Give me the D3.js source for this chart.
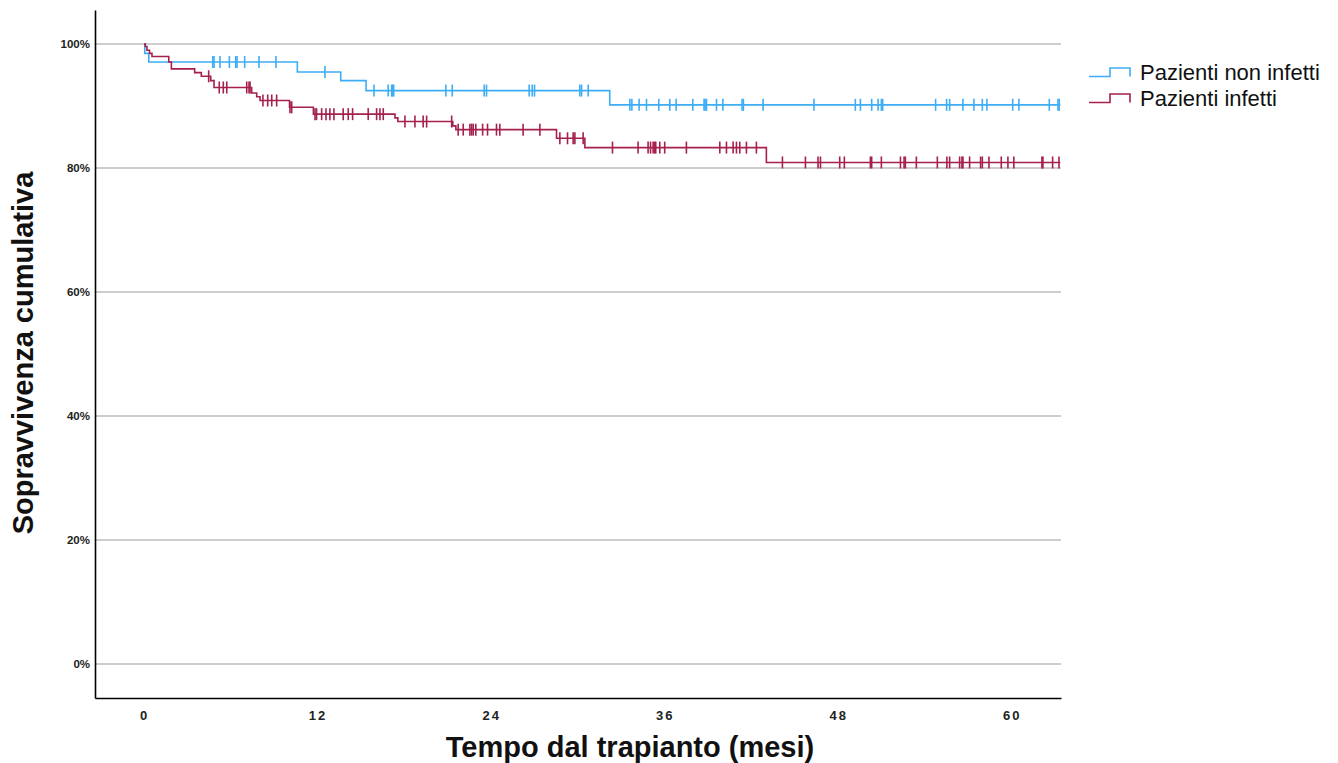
<!DOCTYPE html>
<html>
<head>
<meta charset="utf-8">
<script src="https://cdn.jsdelivr.net/npm/d3@7"></script>
<style>
body{margin:0;background:#fff;}
text{font-family:"Liberation Sans",Arial,sans-serif;}
</style>
</head>
<body>
<div id="chart"></div>
<script>
// Kaplan-Meier steps: times (months) and survival after each drop
const seriesNames=['Pazienti non infetti','Pazienti infetti'];
const blueTimes=[0,0.05,0.33,10.6,13.6,15.35,32.2];
const blueSurv=[1,0.985,0.971,0.955,0.941,0.925,0.902];
const blueCensored=[4.75,4.84,5.25,5.9,6.34,6.43,6.96,7.95,9.12,12.51,15.9,16.88,17.12,17.19,17.26,
  20.87,21.31,23.52,23.68,26.63,26.84,27.0,30.13,30.25,30.71,33.59,33.73,34.23,34.74,35.59,36.35,36.79,
  37.94,38.72,38.79,38.89,39.58,40.02,41.35,41.44,42.8,46.32,49.18,49.53,50.31,50.75,50.98,51.07,54.73,
  55.49,55.7,56.62,57.38,57.96,58.28,60.06,60.49,62.59,63.19,63.28];
const redTimes=[0,0.09,0.2,0.38,0.55,1.71,1.89,3.5,3.96,4.61,4.84,7.44,7.79,8.02,10.06,11.71,17.35,17.55,21.35,21.56,28.52,30.48,43.03];
const redSurv=[1,0.996,0.99,0.985,0.98,0.971,0.96,0.954,0.948,0.941,0.93,0.921,0.915,0.909,0.898,0.887,0.881,0.875,0.868,0.862,0.848,0.833,0.809];
const redCensored=[4.47,5.2,5.48,5.72,7.1,7.26,7.33,8.22,8.55,8.83,9.17,10.09,10.21,11.82,11.93,12.28,12.58,
  12.85,13.13,13.77,14.12,14.42,15.5,16.08,16.31,16.54,18.04,18.73,19.3,19.54,21.27,21.72,22.07,22.53,22.65,
  22.76,22.94,23.41,23.75,24.37,24.6,26.21,27.37,28.75,29.28,29.67,29.79,30.36,32.39,34.16,34.85,35.02,35.2,
  35.31,35.38,35.66,36.0,37.5,39.81,40.27,40.73,40.96,41.19,41.65,42.34,44.14,45.73,46.6,46.77,48.1,48.42,
  50.22,50.31,50.98,52.3,52.55,52.64,53.4,54.85,55.51,55.7,56.39,56.55,56.62,57.08,57.84,57.96,58.42,59.27,
  59.73,60.14,62.08,62.15,62.82,63.26];
const xTicks=[0,12,24,36,48,60];
const yTicks=[0,0.2,0.4,0.6,0.8,1];

const width=1338, height=763;
const colors=['#3DAEF5','#A5204F'];

const svg=d3.select('#chart').append('svg')
  .attr('width',width).attr('height',height);

const x=d3.scaleLinear().domain([-3.39,63.4]).range([95,1061]);
const y=d3.scaleLinear().domain([-0.055,1.055]).range([698,10]);

// gridlines
svg.append('g').selectAll('line').data(yTicks).join('line')
  .attr('x1',95).attr('x2',1061)
  .attr('y1',d=>y(d)).attr('y2',d=>y(d))
  .attr('stroke','#bdbdbd').attr('stroke-width',1.5);

// axes
const yAxis=svg.append('g').attr('transform','translate(95,0)')
  .call(d3.axisLeft(y).tickValues(yTicks).tickFormat(d3.format('.0%')).tickSize(0).tickPadding(5));
yAxis.select('.domain').attr('stroke','#000').attr('stroke-width',1.6);
yAxis.selectAll('text').attr('font-size',11.5).attr('font-weight','bold').attr('fill','#222');

const xAxis=svg.append('g').attr('transform','translate(0,698)')
  .call(d3.axisBottom(x).tickValues(xTicks).tickSize(0).tickPadding(13));
xAxis.select('.domain').attr('stroke','#000').attr('stroke-width',1.6);
xAxis.selectAll('text').attr('font-size',13).attr('font-weight','bold').attr('fill','#222')
  .attr('letter-spacing','2px');

// step curves
const series=[
  {times:blueTimes,surv:blueSurv,cens:blueCensored,color:colors[0]},
  {times:redTimes,surv:redSurv,cens:redCensored,color:colors[1]}
];
const line=d3.line().x(d=>x(d[0])).y(d=>y(d[1])).curve(d3.curveStepAfter);
const survAt=(s,t)=>s.surv[d3.bisectRight(s.times,t)-1];

series.forEach(s=>{
  const pts=s.times.map((t,i)=>[t,s.surv[i]]);
  pts.push([63.35,s.surv[s.surv.length-1]]);
  svg.append('path').datum(pts)
    .attr('d',line).attr('fill','none')
    .attr('stroke',s.color).attr('stroke-width',1.6);
  svg.append('g').selectAll('line').data(s.cens).join('line')
    .attr('x1',d=>x(d)).attr('x2',d=>x(d))
    .attr('y1',d=>y(survAt(s,d))-6).attr('y2',d=>y(survAt(s,d))+6)
    .attr('stroke',s.color).attr('stroke-width',1.6);
});

// axis titles
svg.append('text').attr('x',630).attr('y',757).attr('text-anchor','middle')
  .attr('font-size',29).attr('font-weight','bold').attr('fill','#111')
  .text('Tempo dal trapianto (mesi)');
svg.append('text').attr('transform','translate(33,353) rotate(-90)').attr('text-anchor','middle')
  .attr('font-size',29).attr('font-weight','bold').attr('fill','#111')
  .text('Sopravvivenza cumulativa');

// legend
const legend=svg.append('g').attr('transform','translate(1089,72)');
seriesNames.forEach((name,i)=>{
  const g=legend.append('g').attr('transform',`translate(0,${i*26})`);
  g.append('path').attr('d','M0,4.5H21V-4H41V4.5')
    .attr('fill','none').attr('stroke',colors[i]).attr('stroke-width',1.6);
  g.append('text').attr('x',51).attr('y',0).attr('dy','0.35em')
    .attr('font-size',22).attr('fill','#111').text(name);
});
</script>
</body>
</html>
